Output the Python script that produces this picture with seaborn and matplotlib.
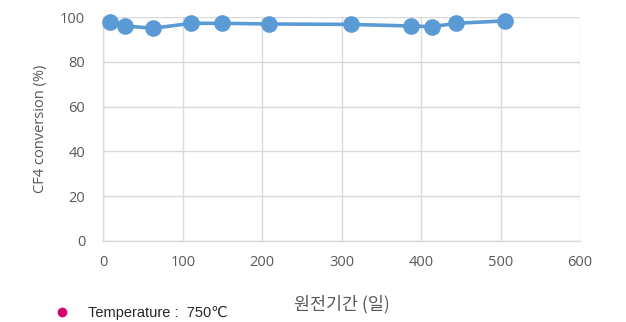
import matplotlib
matplotlib.use("Agg")
import matplotlib.pyplot as plt
import seaborn as sns
import pandas as pd
from matplotlib.lines import Line2D

days = [8, 27, 63, 111, 149, 209, 312, 387, 414, 444, 506]
conversion = [97.9, 96.0, 95.0, 97.2, 97.2, 96.9, 96.7, 96.0, 95.7, 97.2, 98.3]
x_ticks = [0, 100, 200, 300, 400, 500, 600]
y_ticks = [0, 20, 40, 60, 80, 100]

sns.set_style("white")
plt.rcParams['font.family'] = ['Open Sans', 'DejaVu Sans']

df = pd.DataFrame({"days": days, "conv": conversion})

fig = plt.figure(figsize=(6.26, 3.22), dpi=100)
ax = fig.add_axes([0.165, 0.2516, 0.7615, 0.6955])

sns.lineplot(data=df, x="days", y="conv", ax=ax, color="#5B9BD5", linewidth=2.6,
             marker="o", markersize=12, markeredgewidth=0, clip_on=False, zorder=3)

ax.set_xlim(0, 600)
ax.set_ylim(0, 100)
ax.set_xticks(x_ticks)
ax.set_yticks(y_ticks)
ax.grid(True, color="#D9D9D9", linewidth=1)
for s in ["top", "right"]:
    ax.spines[s].set_visible(False)
for s in ["left", "bottom"]:
    ax.spines[s].set_color("#D9D9D9")
    ax.spines[s].set_linewidth(1)
ax.tick_params(axis="y", length=0, labelsize=10.5, labelcolor="#595959", pad=13)
ax.tick_params(axis="x", length=0, labelsize=10.5, labelcolor="#595959", pad=10)

ax.set_ylabel("CF4 conversion (%)", fontsize=10.5, color="#595959", labelpad=9)
ax.set_xlabel("원전기간 (일)", fontsize=12.5, color="#595959",
              family=["Noto Sans CJK KR", "DejaVu Sans"], labelpad=18)

handle = Line2D([], [], linestyle="none", marker="o", markersize=7,
                color="#D6006F", markeredgewidth=0)
fig.legend([handle], ["Temperature :  750℃"], loc="center left",
           bbox_to_anchor=(0.054, 0.028), frameon=False, handletextpad=0.8,
           prop={"family": ["Liberation Sans", "DejaVu Sans"], "size": 10.5})

fig.savefig("out.png", dpi=100)
